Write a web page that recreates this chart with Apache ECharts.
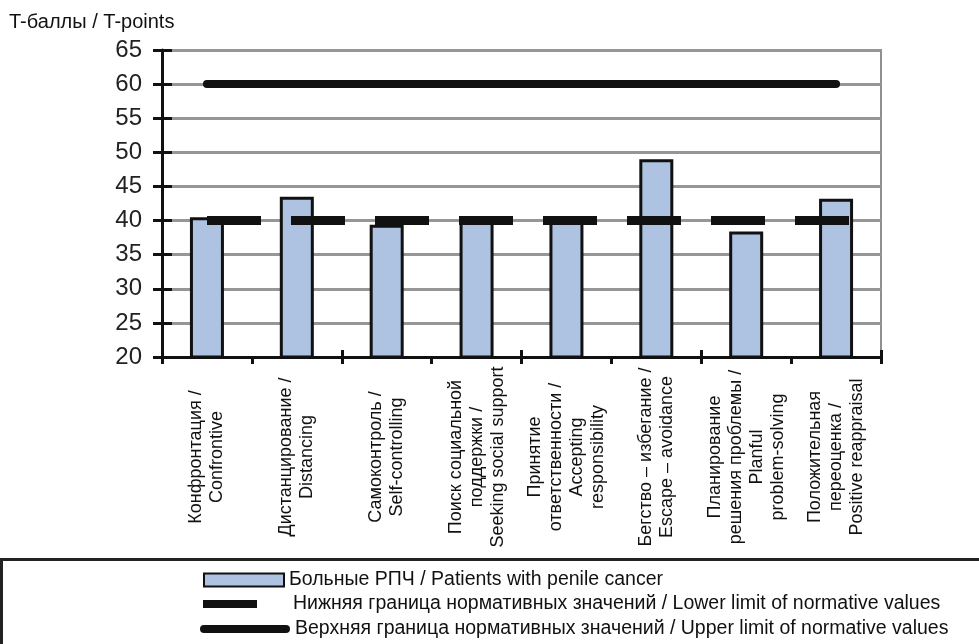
<!DOCTYPE html>
<html>
<head>
<meta charset="utf-8">
<title>T-баллы / T-points</title>
<script src="https://cdn.jsdelivr.net/npm/echarts@6/dist/echarts.min.js"></script>
<style>
  html, body { margin: 0; padding: 0; background: #fff; }
  #chart { width: 979px; height: 644px; }
</style>
</head>
<body>
<div id="chart"></div>
<script>
// Coping strategy categories (Russian / English)
const categories = [
  'Конфронтация /\nConfrontive',
  'Дистанцирование /\nDistancing',
  'Самоконтроль /\nSelf-controlling',
  'Поиск социальной\nподдержки /\nSeeking social support',
  'Принятие\nответственности /\nAccepting\nresponsibility',
  'Бегство – избегание /\nEscape – avoidance',
  'Планирование\nрешения проблемы /\nPlanful\nproblem-solving',
  'Положительная\nпереоценка /\nPositive reappraisal'
];

// Mean T-scores of the patient group
const patients = [40.5, 43.5, 39.4, 39.8, 40.3, 49.0, 38.4, 43.2];

// Normative range bounds
const lowerLimit = [40, 40, 40, 40, 40, 40, 40, 40];
const upperLimit = [60, 60, 60, 60, 60, 60, 60, 60];

// Value axis ticks
const yTicks = { min: 20, max: 65, step: 5 };

const seriesNames = {
  patients: 'Больные РПЧ / Patients with penile cancer',
  lower: 'Нижняя граница нормативных значений / Lower limit of normative values',
  upper: 'Верхняя граница нормативных значений / Upper limit of normative values'
};

const FONT = "'Liberation Sans', Arial, Helvetica, sans-serif";
const INK = '#111';

const chart = echarts.init(document.getElementById('chart'), null, { renderer: 'canvas' });

const legendText = { fontFamily: FONT, fontSize: 19.5, color: INK };

chart.setOption({
  animation: false,
  backgroundColor: '#fff',
  textStyle: { fontFamily: FONT },
  title: {
    text: 'T-баллы / T-points',
    left: 9,
    top: 12,
    padding: 0,
    textStyle: { fontFamily: FONT, fontSize: 20, fontWeight: 'normal', color: INK }
  },
  grid: [
    { left: 162, top: 50, right: 98, bottom: 287, show: true, borderColor: '#8f8f8f', borderWidth: 2 },
    // offset frame carrying the lower-limit markers
    { left: 192, top: 50, right: 115, bottom: 287 }
  ],
  xAxis: [
    {
      type: 'category', gridIndex: 0, position: 'bottom', data: categories,
      axisLine: { lineStyle: { color: INK, width: 3 } },
      axisTick: { show: true, length: 7, lineStyle: { color: INK, width: 3 } },
      axisLabel: {
        rotate: 90, align: 'center', verticalAlign: 'middle', margin: 100,
        fontFamily: FONT, fontSize: 18, lineHeight: 21, color: INK, interval: 0
      },
      splitLine: { show: false }
    },
    {
      type: 'category', gridIndex: 0, position: 'bottom', data: categories,
      axisLine: { show: false },
      axisTick: { show: true, inside: true, length: 7, lineStyle: { color: INK, width: 3 } },
      axisLabel: { show: false },
      splitLine: { show: false }
    },
    {
      type: 'category', gridIndex: 1, data: categories, show: false
    }
  ],
  yAxis: [
    {
      type: 'value', gridIndex: 0, position: 'left', min: yTicks.min, max: yTicks.max, interval: yTicks.step,
      axisLine: { show: true, lineStyle: { color: INK, width: 3 } },
      axisTick: { show: true, length: 9, lineStyle: { color: INK, width: 3 } },
      axisLabel: { margin: 20, fontFamily: FONT, fontSize: 24, color: '#222' },
      splitLine: { show: true, lineStyle: { color: '#969696', width: 3 } }
    },
    {
      type: 'value', gridIndex: 0, position: 'left', min: yTicks.min, max: yTicks.max, interval: yTicks.step,
      axisLine: { show: false },
      axisTick: { show: true, inside: true, length: 10, lineStyle: { color: INK, width: 3 } },
      axisLabel: { show: false },
      splitLine: { show: false }
    },
    {
      type: 'value', gridIndex: 1, min: yTicks.min, max: yTicks.max, show: false,
      splitLine: { show: false }
    }
  ],
  legend: [
    {
      data: [{ name: seriesNames.patients, icon: 'rect' }],
      left: 203, top: 570, padding: 0,
      itemWidth: 80, itemHeight: 13,
      textStyle: legendText,
      selectedMode: false
    },
    {
      data: [{ name: seriesNames.lower, icon: 'rect', itemStyle: { color: INK, borderWidth: 0 } }],
      left: 203, top: 594, padding: 0,
      itemWidth: 54, itemHeight: 8,
      textStyle: Object.assign({ padding: [0, 0, 0, 31] }, legendText),
      selectedMode: false
    },
    {
      data: [{
        name: seriesNames.upper,
        icon: 'path://M4,0 L86,0 A4,4 0 0 1 86,8 L4,8 A4,4 0 0 1 4,0 Z',
        itemStyle: { color: INK, borderWidth: 0 }
      }],
      left: 200, top: 619, padding: 0,
      itemWidth: 90, itemHeight: 8,
      textStyle: legendText,
      selectedMode: false
    }
  ],
  graphic: [
    {
      type: 'rect', silent: true, z: 0,
      shape: { x: 1.5, y: 559.5, width: 1000, height: 120 },
      style: { fill: null, stroke: '#222', lineWidth: 3 }
    }
  ],
  series: [
    {
      name: seriesNames.patients,
      type: 'bar', xAxisIndex: 0, yAxisIndex: 0,
      data: patients,
      barWidth: 34,
      z: 2,
      itemStyle: { color: '#adc3e1', borderColor: INK, borderWidth: 3 }
    },
    {
      name: seriesNames.lower,
      type: 'scatter', xAxisIndex: 2, yAxisIndex: 2,
      data: lowerLimit,
      symbol: 'rect', symbolSize: [54, 9],
      z: 4,
      itemStyle: { color: INK, opacity: 1 }
    },
    {
      name: seriesNames.upper,
      type: 'line', xAxisIndex: 0, yAxisIndex: 0,
      data: upperLimit,
      symbol: 'none',
      z: 5,
      lineStyle: { color: INK, width: 8, cap: 'round' },
      itemStyle: { color: INK }
    }
  ]
});
</script>
</body>
</html>
